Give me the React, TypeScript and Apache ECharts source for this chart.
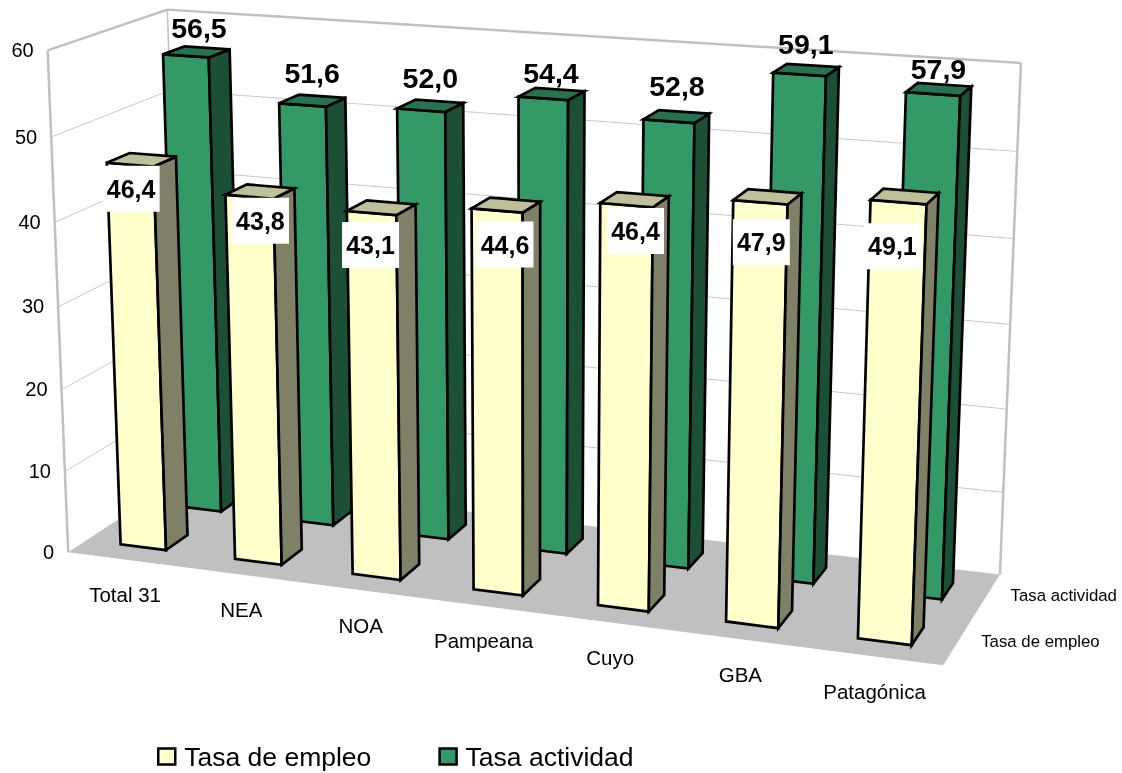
import React, { useEffect, useRef } from "react";
import * as echarts from "echarts";

const categories = ["Total 31", "NEA", "NOA", "Pampeana", "Cuyo", "GBA", "Patagónica"];
const tasaEmpleo = [46.4, 43.8, 43.1, 44.6, 46.4, 47.9, 49.1];
const tasaActividad = [56.5, 51.6, 52.0, 54.4, 52.8, 59.1, 57.9];
const yTicks = [0, 10, 20, 30, 40, 50, 60];
const depthNames = ["Tasa de empleo", "Tasa actividad"];

const FONT = '"Liberation Sans", Arial, sans-serif';

// calibration of the plot box: unit cube corner -> screen
const CAL: number[][] = [
  [0, 0, 0, 68, 553], [0, 1, 0, 48, 50], [1, 0, 0, 943, 665],
  [0, 0, 1, 182, 477], [0, 1, 1, 167, 10], [1, 0, 1, 1000, 575], [1, 1, 1, 1021, 63],
];

// hand placement of the value labels relative to their bars
const frontNudgeX = [1, 11, -1, 8, 9, 1, -6];
const frontNudgeY = [-6, -6, 2, 4, -4, 10, 14];
const backNudgeX = [-8, -10, -9, -9, -7, -7, -6];
const backNudgeY = [8, 5, 5, 12, 2, 6, 12];

function solve(A: number[][], b: number[]) {
  const n = b.length;
  const M = A.map((r, i) => [...r, b[i]]);
  for (let c = 0; c < n; c++) {
    let p = c;
    for (let r = c + 1; r < n; r++) if (Math.abs(M[r][c]) > Math.abs(M[p][c])) p = r;
    [M[c], M[p]] = [M[p], M[c]];
    for (let r = 0; r < n; r++) {
      if (r === c) continue;
      const f = M[r][c] / M[c][c];
      for (let k = c; k <= n; k++) M[r][k] -= f * M[c][k];
    }
  }
  return M.map((r, i) => r[n] / r[i]);
}

function fitCamera() {
  const rows: number[][] = [];
  const rhs: number[] = [];
  for (const [x, y, z, u, v] of CAL) {
    rows.push([x, y, z, 1, 0, 0, 0, 0, -u * x, -u * y, -u * z]); rhs.push(u);
    rows.push([0, 0, 0, 0, x, y, z, 1, -v * x, -v * y, -v * z]); rhs.push(v);
  }
  const N = rows[0].length;
  const AtA = Array.from({ length: N }, (_, i) =>
    Array.from({ length: N }, (_, j) => rows.reduce((s, r) => s + r[i] * r[j], 0)));
  const Atb = Array.from({ length: N }, (_, i) => rows.reduce((s, r, k) => s + r[i] * rhs[k], 0));
  return solve(AtA, Atb);
}
const P = fitCamera();
const proj = (x: number, y: number, z: number): number[] => {
  const w = P[8] * x + P[9] * y + P[10] * z + 1;
  return [(P[0] * x + P[1] * y + P[2] * z + P[3]) / w, (P[4] * x + P[5] * y + P[6] * z + P[7]) / w];
};

const BAR_W = 0.4; // share of a category slot
const rowFront = [0.155, 0.345];
const rowBack = [0.655, 0.845];

const heightOf = (api: any, v: number) => {
  const y0 = api.coord([0, 0])[1];
  const y1 = api.coord([0, 60])[1];
  return (y0 - api.coord([0, v])[1]) / (y0 - y1);
};

const poly = (points: number[][], fill: string, stroke: string | null, lineWidth = 2.7) => ({
  type: "polygon",
  shape: { points },
  style: { fill, stroke: stroke || "none", lineWidth, lineJoin: "miter" },
});
const seg = (a: number[], b: number[], stroke: string, lineWidth: number) => ({
  type: "line",
  shape: { x1: a[0], y1: a[1], x2: b[0], y2: b[1] },
  style: { stroke, lineWidth },
});
const txt = (text: string, p: number[], font: string, align = "center") => ({
  type: "text",
  style: { text, x: p[0], y: p[1], font, fill: "#000", align, verticalAlign: "middle" },
});

const barItem = (row: number[], colors: string[]) => (_: any, api: any) => {
  const i = api.value(0);
  const h = heightOf(api, api.value(1));
  const x0 = (i + 0.5 - BAR_W / 2) / 7;
  const x1 = (i + 0.5 + BAR_W / 2) / 7;
  const [z0, z1] = row;
  return {
    type: "group",
    children: [
      poly([proj(x0, h, z0), proj(x1, h, z0), proj(x1, 0, z0), proj(x0, 0, z0)], colors[0], "#000"),
      poly([proj(x1, h, z0), proj(x1, h, z1), proj(x1, 0, z1), proj(x1, 0, z0)], colors[1], "#000"),
      poly([proj(x0, h, z0), proj(x0, h, z1), proj(x1, h, z1), proj(x1, h, z0)], colors[2], "#000"),
    ],
  };
};

const wallsItem = (_: any, api: any) => {
  const children: any[] = [];
  children.push(poly([proj(0, 0, 0), proj(0, 0, 1), proj(1, 0, 1), proj(1, 0, 0)], "#c0c0c0", null));
  yTicks.forEach((t) => {
    if (t === 0 || t === 60) return;
    const h = heightOf(api, t);
    children.push(seg(proj(0, h, 0), proj(0, h, 1), "#c8c8c8", 1));
    children.push(seg(proj(0, h, 1), proj(1, h, 1), "#c8c8c8", 1));
  });
  const g = "#c0c0c0";
  children.push(seg(proj(0, 0, 0), proj(0, 1, 0), g, 2.5));
  children.push(seg(proj(0, 1, 0), proj(0, 1, 1), g, 2.5));
  children.push(seg(proj(0, 1, 1), proj(1, 1, 1), g, 2.5));
  children.push(seg(proj(1, 1, 1), proj(1, 0, 1), g, 2.5));
  children.push(seg(proj(0, 1, 1), proj(0, 0, 1), g, 1.5));
  return { type: "group", children };
};

const axisTextItem = (_: any, api: any) => {
  const children: any[] = [];
  yTicks.forEach((t) => {
    const p = proj(0, heightOf(api, t), 0);
    children.push(txt(String(t), [p[0] - 14, p[1] - 0.5], `20px ${FONT}`, "right"));
  });
  categories.forEach((c, i) => {
    const p = proj((i + 0.5) / 7, 0, 0);
    children.push(txt(c, [p[0], p[1] + 35], `20.5px ${FONT}`));
  });
  const d0 = proj(1, 0, 0.25);
  const d1 = proj(1, 0, 0.75);
  children.push(txt(depthNames[0], [d0[0] + 23, d0[1]], `16.8px ${FONT}`, "left"));
  children.push(txt(depthNames[1], [d1[0] + 24, d1[1]], `16.8px ${FONT}`, "left"));
  return { type: "group", children };
};

const fmt = (v: number) => v.toFixed(1).replace(".", ",");

const frontLabelItem = (_: any, api: any) => {
  const i = api.value(0);
  const v = api.value(1);
  const p = proj((i + 0.5) / 7, heightOf(api, v), rowFront[0]);
  const c = [p[0] + frontNudgeX[i], p[1] + 30 + frontNudgeY[i]];
  return {
    type: "group",
    children: [
      { type: "rect", shape: { x: c[0] - 28.5, y: c[1] - 23, width: 57, height: 46 }, style: { fill: "#fff" } },
      txt(fmt(v), c, `bold 25px ${FONT}`),
    ],
  };
};

const backLabelItem = (_: any, api: any) => {
  const i = api.value(0);
  const v = api.value(1);
  const p = proj((i + 0.5) / 7, heightOf(api, v), rowBack[1]);
  return txt(fmt(v), [p[0] + backNudgeX[i], p[1] - 28 + backNudgeY[i]], `bold 28.5px ${FONT}`);
};

const custom = (name: string | undefined, data: number[][], renderItem: any, color?: string) => ({
  type: "custom",
  name,
  coordinateSystem: "cartesian2d",
  data,
  renderItem,
  clip: false,
  silent: true,
  encode: { x: 0, y: 1 },
  itemStyle: color ? { color } : undefined,
});

export default function App() {
  const ref = useRef<HTMLDivElement>(null);
  useEffect(() => {
    const chart = echarts.init(ref.current!, undefined, { renderer: "svg" });
    const empleo = tasaEmpleo.map((v, i) => [i, v]);
    const actividad = tasaActividad.map((v, i) => [i, v]);
    chart.setOption({
      animation: false,
      grid: { left: 0, right: 0, top: 52, bottom: 221 },
      xAxis: { type: "category", data: categories, show: false },
      yAxis: { type: "value", min: 0, max: 60, interval: 10, show: false },
      legend: {
        data: depthNames,
        left: 157,
        top: 743,
        padding: 0,
        itemWidth: 17,
        itemHeight: 16,
        itemGap: 67,
        icon: "rect",
        selectedMode: false,
        itemStyle: { borderColor: "#000", borderWidth: 2.5 },
        textStyle: { fontFamily: FONT, fontSize: 26.5, color: "#000", padding: [0, 0, 0, 4] },
      },
      series: [
        custom("walls", [[0, 0]], wallsItem),
        custom(depthNames[1], actividad, barItem(rowBack, ["#339966", "#1c5035", "#267350"]), "#339966"),
        custom(depthNames[0], empleo, barItem(rowFront, ["#ffffcc", "#808066", "#bfbf99"]), "#ffffcc"),
        custom("axis", [[0, 0]], axisTextItem),
        custom("labels front", empleo, frontLabelItem),
        custom("labels back", actividad, backLabelItem),
      ],
    });
    return () => chart.dispose();
  }, []);
  return <div ref={ref} style={{ position: "fixed", left: 0, top: 0, width: 1122, height: 773 }} />;
}
